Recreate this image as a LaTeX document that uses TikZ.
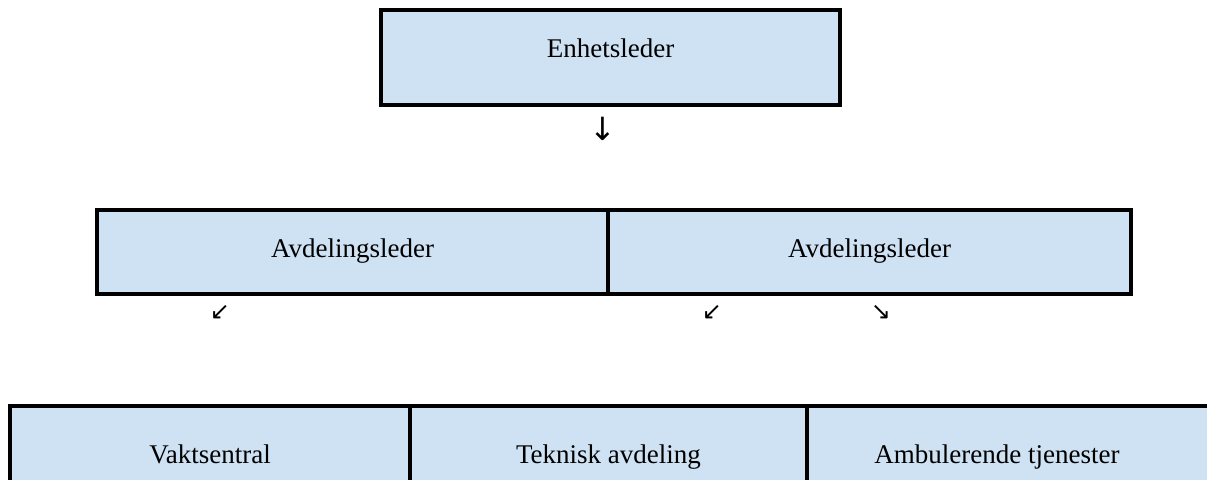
\documentclass[tikz,border=0pt]{standalone}
\usepackage{fontspec}
\setmainfont{Liberation Serif}
\newfontfamily\arrowfont{DejaVu Sans}
\usetikzlibrary{positioning}
\definecolor{unitblue}{RGB}{207,226,243}

\begin{document}
\begin{tikzpicture}[x=0.5pt,y=-0.5pt,
    unitbox/.style={draw,fill=unitblue,line width=2pt,inner xsep=0pt,inner ysep=0pt,outer sep=0pt,
        font=\fontsize{13.5}{16}\selectfont},
    toprow/.style={unitbox,text height=23.5pt,text depth=24pt},
    midrow/.style={unitbox,text height=23.5pt,text depth=18.5pt},
    lowrow/.style={unitbox,text height=28.5pt,text depth=30pt},
    tick/.style={inner sep=0pt,font=\arrowfont\fontsize{12}{14}\selectfont}]
    \useasboundingbox (0,0) rectangle (1207,479);
                % bottom row
                \node[lowrow, anchor=north west, minimum width=200pt] (vakt) at (10,406) {Vaktsentral};
                \node[lowrow, minimum width=198.5pt, right=0pt of vakt] (teknisk) {Teknisk avdeling};
                \node[lowrow, minimum width=220pt, right=0pt of teknisk] (ambulerende) {\hspace*{-30pt}Ambulerende tjenester};
                % middle row
                \node[midrow, anchor=north west, minimum width=255.5pt] (avdA) at (97,210) {Avdelingsleder};
                \node[midrow, minimum width=261.5pt, right=0pt of avdA] (avdB) {Avdelingsleder};
                % top
                \node[toprow, anchor=north west, minimum width=229.5pt] (enhet) at (381,10) {Enhetsleder};
                % arrow signs
                \node[tick, font=\arrowfont\fontsize{16}{18}\selectfont] (ned) at (603,129) {↓};
                \node[tick] (skraA) at (220,312) {↙};
                \node[tick] (skraB) at (712,312) {↙};
                \node[tick] (skraC) at (881,312) {↘};
            \end{tikzpicture}
\end{document}
